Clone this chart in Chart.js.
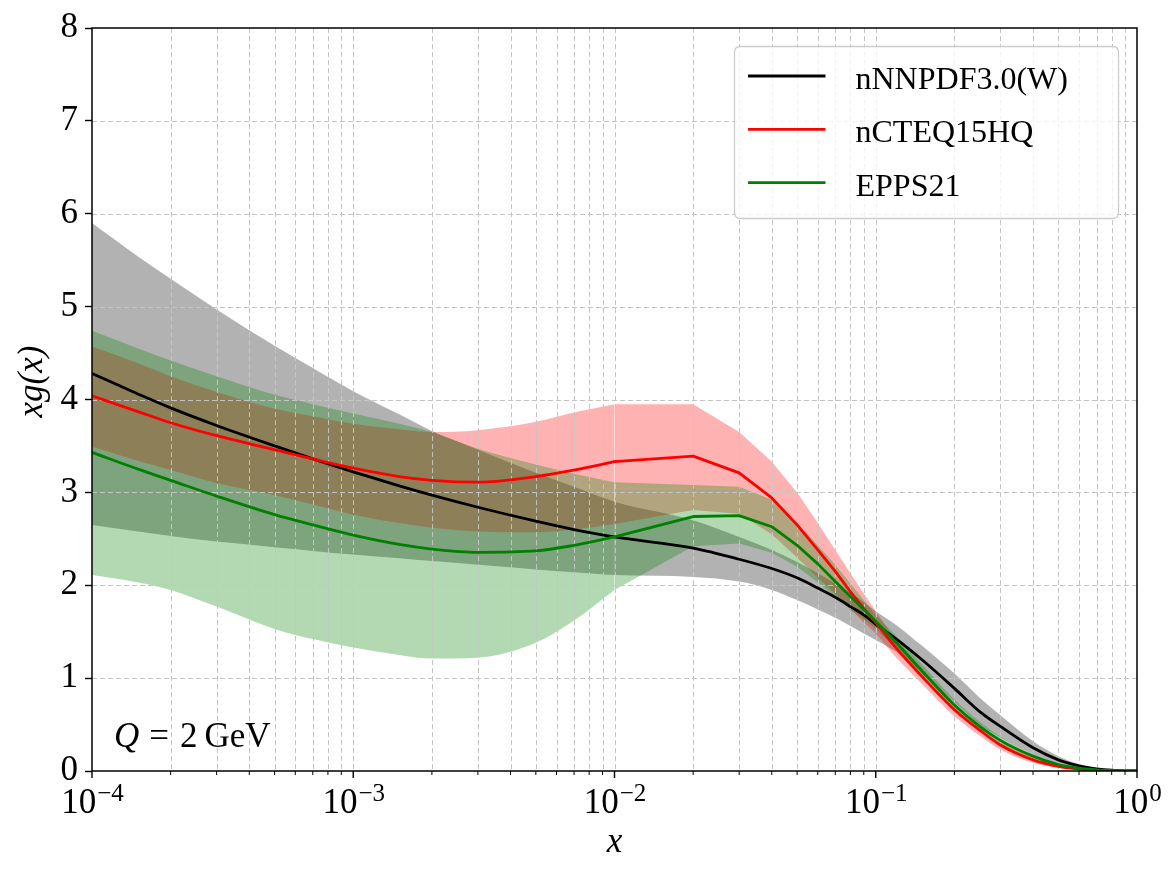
<!DOCTYPE html>
<html>
<head>
<meta charset="utf-8">
<script src="https://cdn.jsdelivr.net/npm/chart.js@4.4.0/dist/chart.umd.min.js"></script>
<style>
html,body{margin:0;padding:0;background:#ffffff;}
canvas{display:block;}
</style>
</head>
<body>
<canvas id="c" width="1176" height="876"></canvas>
<script>
// ---------------- data ----------------
const xValues = [1e-4, 1.5e-4, 2e-4, 3e-4, 5e-4, 7e-4, 1e-3, 1.5e-3, 2e-3, 3e-3, 5e-3, 7e-3,
  0.01, 0.02, 0.03, 0.04, 0.05, 0.06, 0.07, 0.08, 0.09, 0.1,
  0.12, 0.15, 0.2, 0.25, 0.3, 0.4, 0.5, 0.6, 0.7, 0.8, 0.9, 1.0];

const nnpdfCentral = [4.28, 4.06, 3.91, 3.72, 3.50, 3.36, 3.22, 3.07, 2.97, 2.84, 2.69, 2.60,
  2.52, 2.40, 2.28, 2.18, 2.08, 1.97, 1.87, 1.77, 1.68, 1.58,
  1.42, 1.20, 0.89, 0.64, 0.48, 0.25, 0.12, 0.056, 0.024, 0.008, 0.002, 0];
const nnpdfUpper = [5.90, 5.54, 5.30, 4.97, 4.58, 4.34, 4.09, 3.84, 3.66, 3.46, 3.21, 3.06,
  2.90, 2.70, 2.52, 2.38, 2.25, 2.13, 2.02, 1.92, 1.82, 1.72,
  1.57, 1.35, 1.05, 0.79, 0.60, 0.32, 0.16, 0.075, 0.032, 0.011, 0.003, 0];
const nnpdfLower = [2.65, 2.58, 2.53, 2.47, 2.41, 2.37, 2.33, 2.29, 2.26, 2.22, 2.17, 2.14,
  2.11, 2.09, 2.04, 1.95, 1.84, 1.74, 1.65, 1.56, 1.48, 1.41,
  1.28, 1.06, 0.74, 0.50, 0.36, 0.18, 0.08, 0.037, 0.016, 0.005, 0.001, 0];

const ncteqCentral = [4.04, 3.87, 3.75, 3.61, 3.46, 3.36, 3.26, 3.17, 3.13, 3.11, 3.17, 3.24,
  3.33, 3.39, 3.21, 2.94, 2.65, 2.38, 2.15, 1.93, 1.75, 1.60,
  1.32, 1.02, 0.66, 0.44, 0.28, 0.12, 0.05, 0.02, 0.007, 0.002, 0.0005, 0];
const ncteqUpper = [4.57, 4.39, 4.25, 4.08, 3.90, 3.82, 3.74, 3.68, 3.65, 3.67, 3.76, 3.86,
  3.95, 3.95, 3.65, 3.33, 3.00, 2.67, 2.38, 2.13, 1.91, 1.72,
  1.40, 1.10, 0.73, 0.50, 0.33, 0.15, 0.065, 0.027, 0.01, 0.003, 0.001, 0];
const ncteqLower = [3.49, 3.34, 3.24, 3.10, 2.97, 2.87, 2.76, 2.67, 2.62, 2.58, 2.57, 2.60,
  2.66, 2.81, 2.77, 2.55, 2.30, 2.08, 1.91, 1.74, 1.60, 1.48,
  1.22, 0.94, 0.59, 0.38, 0.23, 0.09, 0.035, 0.013, 0.004, 0.001, 0, 0];

const eppsCentral = [3.43, 3.25, 3.13, 2.96, 2.76, 2.65, 2.54, 2.44, 2.39, 2.355, 2.37, 2.43,
  2.52, 2.74, 2.75, 2.63, 2.43, 2.23, 2.04, 1.88, 1.74, 1.61,
  1.38, 1.08, 0.71, 0.48, 0.33, 0.16, 0.07, 0.03, 0.012, 0.004, 0.001, 0];
const eppsUpper = [4.74, 4.55, 4.42, 4.25, 4.05, 3.95, 3.85, 3.74, 3.65, 3.47, 3.30, 3.20,
  3.11, 3.08, 3.06, 2.92, 2.67, 2.43, 2.22, 2.02, 1.84, 1.68,
  1.45, 1.15, 0.77, 0.53, 0.37, 0.18, 0.08, 0.035, 0.014, 0.005, 0.001, 0];
const eppsLower = [2.11, 2.03, 1.95, 1.77, 1.53, 1.42, 1.33, 1.25, 1.21, 1.22, 1.38, 1.62,
  1.95, 2.42, 2.45, 2.35, 2.20, 2.03, 1.88, 1.74, 1.63, 1.53,
  1.31, 1.01, 0.65, 0.43, 0.29, 0.14, 0.06, 0.025, 0.01, 0.003, 0.0005, 0];

const seriesLabels = ['nNNPDF3.0(W)', 'nCTEQ15HQ', 'EPPS21'];
const yTickValues = [0, 1, 2, 3, 4, 5, 6, 7, 8];
const xTickExponents = [-4, -3, -2, -1, 0];
const xAxisTitle = 'x';
const yAxisTitle = 'xg(x)';
const annotation = {symbol: 'Q', rest: ['=', '2', 'GeV']};

// ---------------- styling ----------------
const FONT = "'Liberation Serif', 'DejaVu Serif', serif";
const LW = 2.8;

const i01 = xValues.indexOf(0.01), i1 = xValues.indexOf(0.1), iEnd = xValues.length - 1;
const wholeSmooth = [{from: 0, to: iEnd, smooth: true}];
const splitPieces = [
  {from: 0, to: i01, smooth: true},
  {from: i01, to: i1, smooth: false},
  {from: i1, to: iEnd, smooth: true}
];

const models = [
  {label: seriesLabels[0], c: nnpdfCentral, u: nnpdfUpper, l: nnpdfLower, pieces: wholeSmooth,
   line: '#000000', band: 'rgba(0,0,0,0.3)', lineOrder: 3, bandOrder: 30},
  {label: seriesLabels[1], c: ncteqCentral, u: ncteqUpper, l: ncteqLower, pieces: splitPieces,
   line: '#ff0000', band: 'rgba(255,0,0,0.3)', lineOrder: 2, bandOrder: 20},
  {label: seriesLabels[2], c: eppsCentral, u: eppsUpper, l: eppsLower, pieces: splitPieces,
   line: '#008000', band: 'rgba(0,128,0,0.3)', lineOrder: 1, bandOrder: 10}
];

const pts = (arr, p) => {
  const out = [];
  for (let i = p.from; i <= p.to; i++) out.push({x: xValues[i], y: arr[i]});
  return out;
};
function styleOf(p) {
  return p.smooth ? {cubicInterpolationMode: 'monotone', tension: 0.4} : {tension: 0};
}

const datasets = [];
models.forEach(m => {
  m.pieces.forEach((p, k) => {
    datasets.push(Object.assign({
      label: k === 0 ? m.label : '_' + m.label, data: pts(m.c, p), borderColor: m.line,
      backgroundColor: m.line, borderWidth: LW, pointRadius: 0, pointHoverRadius: 0,
      fill: false, order: m.lineOrder, borderJoinStyle: 'round', borderCapStyle: 'round'
    }, styleOf(p)));
  });
});
models.forEach(m => {
  m.pieces.forEach(p => {
    datasets.push(Object.assign({
      label: '_band', data: pts(m.u, p), borderColor: 'rgba(0,0,0,0)', borderWidth: 0,
      backgroundColor: m.band, pointRadius: 0, pointHoverRadius: 0, fill: '+1', order: m.bandOrder
    }, styleOf(p)));
    datasets.push(Object.assign({
      label: '_band', data: pts(m.l, p), borderColor: 'rgba(0,0,0,0)', borderWidth: 0,
      backgroundColor: m.band, pointRadius: 0, pointHoverRadius: 0, fill: false, order: m.bandOrder
    }, styleOf(p)));
  });
});

function gridXValues() {
  const out = [];
  for (let e = xTickExponents[0]; e < xTickExponents[xTickExponents.length - 1]; e++) {
    for (let m = 1; m < 10; m++) out.push({v: m * Math.pow(10, e), major: m === 1});
  }
  out.push({v: Math.pow(10, xTickExponents[xTickExponents.length - 1]), major: true});
  return out;
}

const decor = {
  id: 'decor',
  beforeDatasetsDraw(chart) {
    const {ctx, chartArea: a} = chart;
    const xs = chart.scales.x, ys = chart.scales.y;
    ctx.save();
    ctx.beginPath(); ctx.rect(a.left, a.top, a.right - a.left, a.bottom - a.top); ctx.clip();
    ctx.strokeStyle = '#c4c4c4'; ctx.lineWidth = 1; ctx.setLineDash([5, 3]);
    for (const g of gridXValues()) {
      const px = Math.round(xs.getPixelForValue(g.v)) + 0.5;
      if (px <= a.left + 1 || px >= a.right - 1) continue;
      ctx.beginPath(); ctx.moveTo(px, a.top); ctx.lineTo(px, a.bottom); ctx.stroke();
    }
    for (const t of yTickValues) {
      const py = Math.round(ys.getPixelForValue(t)) + 0.5;
      if (py <= a.top + 1 || py >= a.bottom - 1) continue;
      ctx.beginPath(); ctx.moveTo(a.left, py); ctx.lineTo(a.right, py); ctx.stroke();
    }
    ctx.restore();
  },
  afterDraw(chart) {
    const {ctx, chartArea: a} = chart;
    const xs = chart.scales.x;
    ctx.save();
    ctx.strokeStyle = '#000'; ctx.lineWidth = 1.5; ctx.setLineDash([]);
    ctx.strokeRect(a.left, a.top, a.right - a.left, a.bottom - a.top);
    for (const g of gridXValues()) {
      const px = xs.getPixelForValue(g.v);
      ctx.lineWidth = g.major ? 1.4 : 1.0;
      ctx.beginPath(); ctx.moveTo(px, a.bottom); ctx.lineTo(px, a.bottom + (g.major ? 7 : 4)); ctx.stroke();
    }
    ctx.fillStyle = '#000';
    ctx.textBaseline = 'alphabetic'; ctx.textAlign = 'left';
    const baseFont = '35px ' + FONT, expFont = '25px ' + FONT;
    for (const e of xTickExponents) {
      const px = xs.getPixelForValue(Math.pow(10, e));
      const expText = (e < 0 ? '\u2212' : '') + Math.abs(e);
      ctx.font = baseFont; const wb = ctx.measureText('10').width;
      ctx.font = expFont; const we = ctx.measureText(expText).width;
      const x0 = px - (wb + we) / 2;
      const base = a.bottom + 42;
      ctx.font = baseFont; ctx.fillText('10', x0, base);
      ctx.font = expFont; ctx.fillText(expText, x0 + wb + 1, base - 12);
    }
    ctx.font = 'italic 35px ' + FONT; ctx.textAlign = 'center';
    ctx.fillText(xAxisTitle, (a.left + a.right) / 2, a.bottom + 81);
    ctx.save();
    ctx.translate(33, (a.top + a.bottom) / 2 - 18);
    ctx.rotate(-Math.PI / 2);
    ctx.textBaseline = 'middle';
    ctx.fillText(yAxisTitle, 0, 0);
    ctx.restore();
    ctx.textAlign = 'left'; ctx.textBaseline = 'alphabetic';
    let ax = a.left + 22; const ay = a.bottom - 24;
    ctx.font = 'italic 35px ' + FONT; ctx.fillText(annotation.symbol, ax, ay);
    ax += ctx.measureText(annotation.symbol).width + 10;
    ctx.font = '35px ' + FONT;
    const gaps = [11, 7, 0];
    annotation.rest.forEach((s, i) => { ctx.fillText(s, ax, ay); ax += ctx.measureText(s).width + gaps[i]; });
    // legend
    const items = chart.data.datasets.filter(d => !d.label.startsWith('_'));
    const bw = 384, bh = 172;
    const bx = a.right - 18.5 - bw, by = a.top + 18.5;
    const r = 6;
    ctx.beginPath();
    ctx.moveTo(bx + r, by); ctx.lineTo(bx + bw - r, by); ctx.quadraticCurveTo(bx + bw, by, bx + bw, by + r);
    ctx.lineTo(bx + bw, by + bh - r); ctx.quadraticCurveTo(bx + bw, by + bh, bx + bw - r, by + bh);
    ctx.lineTo(bx + r, by + bh); ctx.quadraticCurveTo(bx, by + bh, bx, by + bh - r);
    ctx.lineTo(bx, by + r); ctx.quadraticCurveTo(bx, by, bx + r, by); ctx.closePath();
    ctx.fillStyle = 'rgba(255,255,255,0.8)'; ctx.fill();
    ctx.strokeStyle = '#cccccc'; ctx.lineWidth = 1.3; ctx.stroke();
    ctx.font = '32px ' + FONT;
    items.forEach((d, i) => {
      const ry = by + 29.5 + i * 53.3;
      ctx.strokeStyle = d.borderColor; ctx.lineWidth = LW; ctx.lineCap = 'butt';
      ctx.beginPath(); ctx.moveTo(bx + 13.5, ry); ctx.lineTo(bx + 91, ry); ctx.stroke();
      ctx.fillStyle = '#000';
      ctx.fillText(d.label, bx + 121, ry + 13);
    });
    ctx.restore();
  }
};

new Chart(document.getElementById('c'), {
  type: 'line',
  data: {datasets},
  options: {
    responsive: false,
    animation: false,
    devicePixelRatio: 1,
    layout: {padding: {top: 28, right: 39, left: 0, bottom: 0}},
    plugins: {
      legend: {display: false},
      tooltip: {enabled: false},
      filler: {drawTime: 'beforeDatasetsDraw', propagate: false}
    },
    scales: {
      x: {
        type: 'logarithmic', min: 1e-4, max: 1,
        ticks: {display: false},
        grid: {display: false},
        border: {display: false},
        afterFit(scale) { scale.height = 105; }
      },
      y: {
        type: 'linear', min: 0, max: 8,
        afterBuildTicks(scale) { scale.ticks = yTickValues.map(v => ({value: v})); },
        ticks: {color: '#000', font: {family: FONT, size: 35}, padding: 7,
          callback: v => String(v)},
        grid: {display: true, drawOnChartArea: false, drawTicks: true, tickLength: 7,
          tickWidth: 1.4, tickColor: '#000', color: 'rgba(0,0,0,0)'},
        border: {display: false},
        afterFit(scale) { scale.width = 92; }
      }
    }
  },
  plugins: [decor]
});
</script>
</body>
</html>
